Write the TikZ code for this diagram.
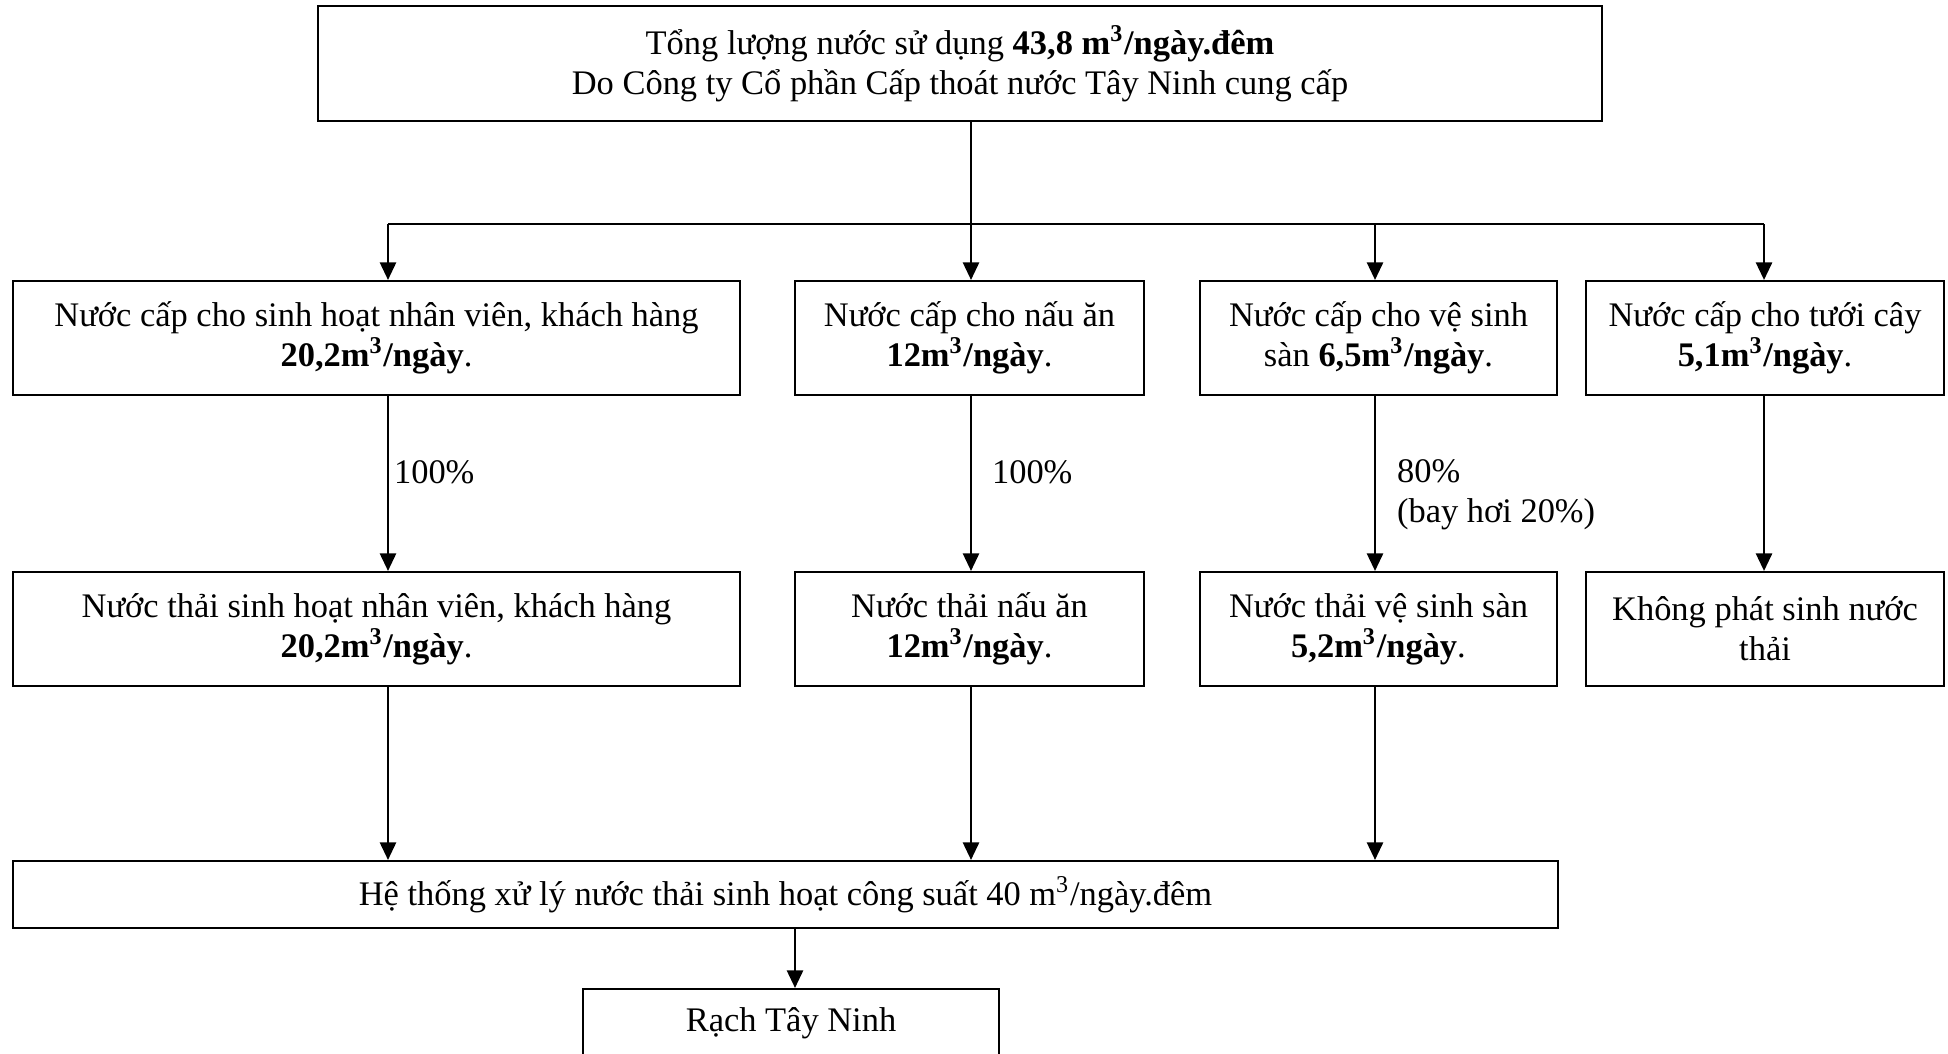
\documentclass[tikz,border=0pt]{standalone}
\usepackage{fontspec}
\setmainfont{Liberation Serif}
\usetikzlibrary{positioning,arrows.meta}
\tikzset{>={Triangle[length=5pt,width=4.6pt]}}

\begin{document}
\begin{tikzpicture}[x=0.1mm,y=-0.1mm,line width=0.6pt,
  box/.style={draw,align=center,inner sep=0pt,minimum height=11.4mm,font=\fontsize{9.8}{11.4}\selectfont},
  lbl/.style={font=\fontsize{9.8}{11.4}\selectfont,align=left,inner sep=0pt}]
\useasboundingbox (0,0) rectangle (1948,1053);
\clip (0,0) rectangle (1948,1053);
% nguon cap
\node[box,minimum width=128.4mm,minimum height=11.5mm] (top) at (960,63.5) {Tổng lượng nước sử dụng \textbf{43,8 m\textsuperscript{3}/ngày.đêm}\\Do Công ty Cổ phần Cấp thoát nước Tây Ninh cung cấp};
% nuoc cap
\node[box,minimum width=72.7mm] (s1) at (376.5,338) {Nước cấp cho sinh hoạt nhân viên, khách hàng\\\textbf{20,2m\textsuperscript{3}/ngày}.};
\node[box,minimum width=34.9mm] (s2) at (969.5,338) {Nước cấp cho nấu ăn\\\textbf{12m\textsuperscript{3}/ngày}.};
\node[box,minimum width=35.7mm] (s3) at (1378.5,338) {Nước cấp cho vệ sinh\\sàn \textbf{6,5m\textsuperscript{3}/ngày}.};
\node[box,minimum width=35.8mm] (s4) at (1765,338) {Nước cấp cho tưới cây\\\textbf{5,1m\textsuperscript{3}/ngày}.};
% nuoc thai
\node[box,minimum width=72.7mm] (w1) at (376.5,629) {Nước thải sinh hoạt nhân viên, khách hàng\\\textbf{20,2m\textsuperscript{3}/ngày}.};
\node[box,minimum width=34.9mm] (w2) at (969.5,629) {Nước thải nấu ăn\\\textbf{12m\textsuperscript{3}/ngày}.};
\node[box,minimum width=35.7mm] (w3) at (1378.5,629) {Nước thải vệ sinh sàn\\\textbf{5,2m\textsuperscript{3}/ngày}.};
\node[box,minimum width=35.8mm] (w4) at (1765,629) {Không phát sinh nước\\thải};
% xu ly
\node[box,minimum width=154.5mm,minimum height=6.7mm] (ht) at (785.5,894.5) {Hệ thống xử lý nước thải sinh hoạt công suất 40 m\textsuperscript{3}/ngày.đêm};
\node[box,minimum width=41.6mm,minimum height=6.8mm] (rach) at (791,1023) {Rạch Tây Ninh};

\coordinate (br) at (971,224);
\coordinate (b1) at (388,224);
\coordinate (b2) at (971,224);
\coordinate (b3) at (1375,224);
\coordinate (b4) at (1764,224);
\coordinate (r) at (795,0);

\draw (top.south -| br) -- (br);
\draw (b1) -- (b4);
\draw[->] (b1) -- (b1 |- s1.north);
\draw[->] (b2) -- (b2 |- s2.north);
\draw[->] (b3) -- (b3 |- s3.north);
\draw[->] (b4) -- (b4 |- s4.north);

\draw[->] (s1.south -| b1) -- node[lbl,right=0.5mm,pos=0.435] {100\%} (w1.north -| b1);
\draw[->] (s2.south -| b2) -- node[lbl,right=2mm,pos=0.435] {100\%} (w2.north -| b2);
\draw[->] (s3.south -| b3) -- node[lbl,right=2.1mm,pos=0.565] {80\%\\(bay hơi 20\%)} (w3.north -| b3);
\draw[->] (s4.south -| b4) -- (w4.north -| b4);

\draw[->] (w1.south -| b1) -- (b1 |- ht.north);
\draw[->] (w2.south -| b2) -- (b2 |- ht.north);
\draw[->] (w3.south -| b3) -- (b3 |- ht.north);
\draw[->] (ht.south -| r) -- (rach.north -| r);
\end{tikzpicture}
\end{document}
